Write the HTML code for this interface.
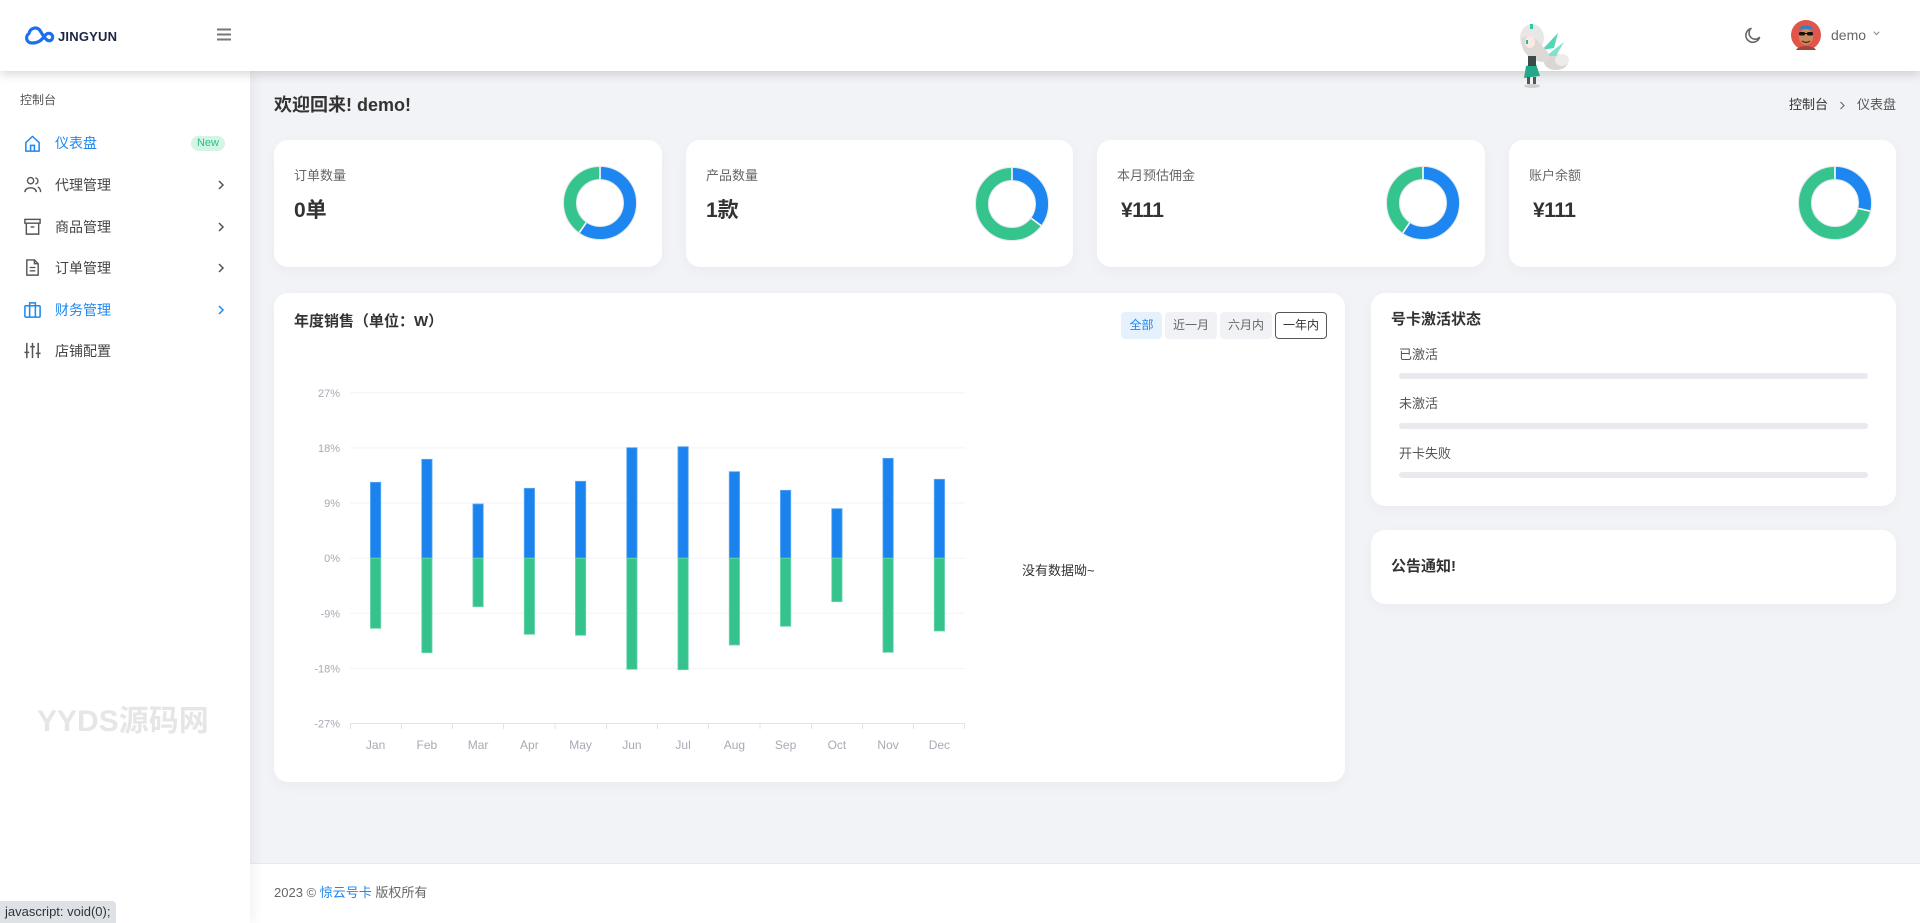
<!DOCTYPE html>
<html lang="zh-CN">
<head>
<meta charset="utf-8">
<style>
*{margin:0;padding:0;box-sizing:border-box;}
html,body{width:1920px;height:923px;overflow:hidden;background:#f2f3f7;font-family:"Liberation Sans","Noto Sans CJK SC",sans-serif;color:#333;}
.abs{position:absolute;}
#header{position:absolute;left:0;top:0;width:1920px;height:71px;background:#fff;box-shadow:0 3px 10px rgba(0,0,0,0.16);z-index:5;}
#sidebar{position:absolute;left:0;top:71px;width:250px;height:852px;background:#fff;box-shadow:3px 0 12px rgba(0,0,0,0.06);z-index:4;}
.card{position:absolute;background:#fff;border-radius:14px;box-shadow:0 4px 14px rgba(0,0,0,0.035);}
.t{position:absolute;white-space:nowrap;}
.mi{position:absolute;left:55px;height:20px;line-height:20px;font-size:14px;color:#444;white-space:nowrap;}
.ico{position:absolute;left:23px;width:19px;height:19px;}
.chev{position:absolute;left:217px;width:8px;height:12px;}
.btn{position:absolute;top:312px;height:27px;line-height:27px;font-size:12px;text-align:center;border-radius:4px;}
#footer{position:absolute;left:250px;top:863px;width:1670px;height:60px;background:#fff;border-top:1px solid #e9e9ee;z-index:3;}
</style>
</head>
<body>

<!-- HEADER -->
<div id="header">
  <svg class="abs" style="left:23px;top:24px" width="32" height="22" viewBox="0 0 32 22">
    <path d="M9 19 C3 19 2 12 6 9.5 C7 4 14 2 17 6.5 C19 9.5 21 14 24 16 C28 18.5 31 14 29 11 C27.5 8.5 24 9 22.5 11 L20 14 C17 18 13 19 9 19 Z" fill="none" stroke="#1d6ff2" stroke-width="3.2" stroke-linejoin="round" stroke-linecap="round"/>
  </svg>
  <div class="t" style="left:58px;top:28px;font-size:13px;line-height:18px;font-weight:900;color:#1b2541;letter-spacing:0.2px;">JINGYUN</div>
  <svg class="abs" style="left:217px;top:28px" width="14" height="13" viewBox="0 0 14 13">
    <rect x="0" y="0.5" width="14" height="2" fill="#777"/>
    <rect x="0" y="5.5" width="14" height="2" fill="#777"/>
    <rect x="0" y="10.5" width="14" height="2" fill="#777"/>
  </svg>
  <!-- mascot -->
  <svg class="abs" style="left:1512px;top:20px" width="64" height="70" viewBox="0 0 64 70">
    <ellipse cx="44" cy="42" rx="12" ry="8" fill="#d9d6d4"/>
    <ellipse cx="50" cy="40" rx="7" ry="6" fill="#eeeceb"/>
    <path d="M30 30 L46 13 L42 28 Z" fill="#52d6b6"/>
    <path d="M34 36 L52 22 L44 36 Z" fill="#7fe3cb"/>
    <ellipse cx="20" cy="18" rx="12" ry="14" fill="#e9e7e6"/>
    <path d="M10 18 C8 30 16 40 30 42 C38 43 40 36 34 30 C28 24 22 12 10 18 Z" fill="#dcd9d7"/>
    <ellipse cx="18" cy="22" rx="5" ry="6" fill="#fbe9e2"/>
    <rect x="14" y="20" width="2" height="4" fill="#2bb59b"/>
    <rect x="18" y="4" width="3" height="5" fill="#33c7a7"/>
    <path d="M14 46 L24 44 L28 56 L12 58 Z" fill="#23a989"/>
    <rect x="16" y="36" width="8" height="10" fill="#3e4a48"/>
    <rect x="15" y="57" width="3" height="7" fill="#555"/>
    <rect x="21" y="57" width="3" height="7" fill="#555"/>
    <ellipse cx="20" cy="66" rx="8" ry="2" fill="#cfcfcf"/>
  </svg>
  <!-- moon -->
  <svg class="abs" style="left:1744px;top:26px" width="18" height="18" viewBox="0 0 18 18">
    <path d="M15.5 11.5 A7 7 0 1 1 7 2.5 A5.5 5.5 0 0 0 15.5 11.5 Z" fill="none" stroke="#666" stroke-width="1.6" stroke-linejoin="round"/>
  </svg>
  <!-- avatar -->
  <svg class="abs" style="left:1791px;top:20px" width="30" height="30" viewBox="0 0 30 30">
    <circle cx="15" cy="15" r="15" fill="#e0564b"/>
    <path d="M8 9 C9 4 21 4 22 9 Z" fill="#3f7fb8"/>
    <ellipse cx="15" cy="17" rx="7" ry="8" fill="#c98a5e"/>
    <rect x="8" y="12" width="6" height="3.5" rx="1.5" fill="#111"/>
    <rect x="16" y="12" width="6" height="3.5" rx="1.5" fill="#111"/>
    <rect x="13" y="13" width="4" height="1" fill="#111"/>
    <path d="M11 21 Q15 24 19 21" fill="none" stroke="#5a2a1a" stroke-width="1.4"/>
    <path d="M5 30 C7 25 23 25 25 30 Z" fill="#a24437"/>
  </svg>
  <div class="t" style="left:1831px;top:26px;font-size:14px;line-height:18px;color:#666;">demo</div>
  <svg class="abs" style="left:1873px;top:31px" width="7" height="5" viewBox="0 0 7 5">
    <polyline points="0.8,0.8 3.5,3.6 6.2,0.8" fill="none" stroke="#888" stroke-width="1.1"/>
  </svg>
</div>

<!-- SIDEBAR -->
<div id="sidebar">
  <div class="t" style="left:20px;top:21px;font-size:12px;line-height:16px;color:#555;">控制台</div>
</div>
<div class="abs" style="left:0;top:0;width:250px;height:923px;z-index:6;pointer-events:none;">
  <!-- item 1 -->
  <svg class="ico" style="top:134px" viewBox="0 0 20 20"><path d="M3 9 L10 2.5 L17 9 V18 H3 Z" fill="none" stroke="#1e88f0" stroke-width="1.6" stroke-linejoin="round"/><path d="M8 18 V12 H12 V18" fill="none" stroke="#1e88f0" stroke-width="1.6"/></svg>
  <div class="mi" style="top:133px;color:#1e88f0;">仪表盘</div>
  <div class="t" style="left:191px;top:136px;width:34px;height:15px;border-radius:8px;background:#d3f4e6;color:#2cc184;font-size:11px;line-height:15px;text-align:center;">New</div>
  <!-- item 2 -->
  <svg class="ico" style="top:175px" viewBox="0 0 20 20"><circle cx="8" cy="6" r="3.3" fill="none" stroke="#555" stroke-width="1.5"/><path d="M2 18 C2 12 14 12 14 18" fill="none" stroke="#555" stroke-width="1.5"/><path d="M13 3 A3.3 3.3 0 0 1 13 9.5" fill="none" stroke="#555" stroke-width="1.5"/><path d="M15.5 12.5 C17.5 13.5 18.5 15.5 18.5 18" fill="none" stroke="#555" stroke-width="1.5"/></svg>
  <div class="mi" style="top:175px;">代理管理</div>
  <svg class="chev" style="top:179px" viewBox="0 0 8 12"><polyline points="2,2 6,6 2,10" fill="none" stroke="#555" stroke-width="1.5"/></svg>
  <!-- item 3 -->
  <svg class="ico" style="top:217px" viewBox="0 0 20 20"><rect x="2" y="2.5" width="16" height="4" fill="none" stroke="#555" stroke-width="1.5"/><path d="M3.5 6.5 V18 H16.5 V6.5" fill="none" stroke="#555" stroke-width="1.5"/><line x1="8" y1="10.5" x2="12" y2="10.5" stroke="#555" stroke-width="1.5"/></svg>
  <div class="mi" style="top:217px;">商品管理</div>
  <svg class="chev" style="top:221px" viewBox="0 0 8 12"><polyline points="2,2 6,6 2,10" fill="none" stroke="#555" stroke-width="1.5"/></svg>
  <!-- item 4 -->
  <svg class="ico" style="top:258px" viewBox="0 0 20 20"><path d="M4 2 H12 L16 6 V18 H4 Z" fill="none" stroke="#555" stroke-width="1.5" stroke-linejoin="round"/><path d="M12 2 V6 H16" fill="none" stroke="#555" stroke-width="1.5"/><line x1="7" y1="10" x2="13" y2="10" stroke="#555" stroke-width="1.4"/><line x1="7" y1="13.5" x2="13" y2="13.5" stroke="#555" stroke-width="1.4"/></svg>
  <div class="mi" style="top:258px;">订单管理</div>
  <svg class="chev" style="top:262px" viewBox="0 0 8 12"><polyline points="2,2 6,6 2,10" fill="none" stroke="#555" stroke-width="1.5"/></svg>
  <!-- item 5 -->
  <svg class="ico" style="top:300px" viewBox="0 0 20 20"><rect x="2" y="6" width="16" height="12" rx="1" fill="none" stroke="#1e88f0" stroke-width="1.6"/><path d="M7 6 V3 H13 V6" fill="none" stroke="#1e88f0" stroke-width="1.6"/><line x1="7" y1="6" x2="7" y2="18" stroke="#1e88f0" stroke-width="1.6"/><line x1="13" y1="6" x2="13" y2="18" stroke="#1e88f0" stroke-width="1.6"/></svg>
  <div class="mi" style="top:300px;color:#1e88f0;">财务管理</div>
  <svg class="chev" style="top:304px" viewBox="0 0 8 12"><polyline points="2,2 6,6 2,10" fill="none" stroke="#1e88f0" stroke-width="1.5"/></svg>
  <!-- item 6 -->
  <svg class="ico" style="top:341px" viewBox="0 0 20 20"><g stroke="#555" stroke-width="1.6"><line x1="4" y1="2" x2="4" y2="18"/><line x1="10" y1="2" x2="10" y2="18"/><line x1="16" y1="2" x2="16" y2="18"/><line x1="1.5" y1="12" x2="6.5" y2="12"/><line x1="7.5" y1="6" x2="12.5" y2="6"/><line x1="13.5" y1="13" x2="18.5" y2="13"/></g></svg>
  <div class="mi" style="top:341px;">店铺配置</div>
  <!-- watermark -->
  <div class="t" style="left:37px;top:705px;font-size:30px;line-height:34px;font-weight:bold;color:#e6e6e8;">YYDS源码网</div>
</div>

<!-- MAIN TITLE -->
<div class="t" style="left:274px;top:94px;font-size:18px;line-height:22px;font-weight:bold;color:#333;">欢迎回来! demo!</div>
<div class="t" style="left:1789px;top:96px;font-size:13px;line-height:18px;color:#333;">控制台</div>
<svg class="abs" style="left:1839px;top:101px" width="7" height="9" viewBox="0 0 7 9"><polyline points="1.5,1 5,4.5 1.5,8" fill="none" stroke="#666" stroke-width="1.1"/></svg>
<div class="t" style="left:1857px;top:96px;font-size:13px;line-height:18px;color:#555;">仪表盘</div>

<!-- STAT CARDS -->
<div class="card" style="left:274px;top:140px;width:388px;height:127px;"></div>
<div class="card" style="left:686px;top:140px;width:387px;height:127px;"></div>
<div class="card" style="left:1097px;top:140px;width:388px;height:127px;"></div>
<div class="card" style="left:1509px;top:140px;width:387px;height:127px;"></div>

<div class="t" style="left:294px;top:167px;font-size:13px;line-height:18px;color:#666;">订单数量</div>
<div class="t" style="left:294px;top:198px;font-size:21px;line-height:26px;font-weight:bold;color:#333;">0单</div>
<div class="t" style="left:706px;top:167px;font-size:13px;line-height:18px;color:#666;">产品数量</div>
<div class="t" style="left:706px;top:198px;font-size:21px;line-height:26px;font-weight:bold;color:#333;">1款</div>
<div class="t" style="left:1117px;top:167px;font-size:13px;line-height:18px;color:#666;">本月预估佣金</div>
<div class="t" style="left:1121px;top:198px;font-size:21px;line-height:26px;font-weight:bold;color:#333;letter-spacing:-0.5px;">¥111</div>
<div class="t" style="left:1529px;top:167px;font-size:13px;line-height:18px;color:#666;">账户余额</div>
<div class="t" style="left:1533px;top:198px;font-size:21px;line-height:26px;font-weight:bold;color:#333;letter-spacing:-0.5px;">¥111</div>

<!-- CHART CARD & RIGHT CARDS -->
<div class="card" style="left:274px;top:293px;width:1071px;height:489px;"></div>
<div class="card" style="left:1371px;top:293px;width:525px;height:213px;"></div>
<div class="card" style="left:1371px;top:530px;width:525px;height:74px;"></div>

<div class="t" style="left:294px;top:312px;font-size:15px;line-height:20px;font-weight:bold;color:#333;">年度销售（单位：W）</div>
<div class="btn" style="left:1121px;width:41px;background:#e6f1fe;color:#1e88f0;">全部</div>
<div class="btn" style="left:1165px;width:52px;background:#f1f2f5;color:#666;">近一月</div>
<div class="btn" style="left:1220px;width:52px;background:#f1f2f5;color:#666;">六月内</div>
<div class="btn" style="left:1275px;width:52px;background:#fff;color:#333;border:1px solid #555;line-height:25px;">一年内</div>
<div class="t" style="left:1022px;top:562px;font-size:13px;line-height:18px;color:#333;">没有数据呦~</div>

<div class="t" style="left:1391px;top:310px;font-size:15px;line-height:20px;font-weight:bold;color:#333;">号卡激活状态</div>
<div class="t" style="left:1399px;top:346px;font-size:13px;line-height:18px;color:#555;">已激活</div>
<div class="abs" style="left:1399px;top:373px;width:469px;height:6px;border-radius:3px;background:#e9e9ef;"></div>
<div class="t" style="left:1399px;top:395px;font-size:13px;line-height:18px;color:#555;">未激活</div>
<div class="abs" style="left:1399px;top:423px;width:469px;height:6px;border-radius:3px;background:#e9e9ef;"></div>
<div class="t" style="left:1399px;top:445px;font-size:13px;line-height:18px;color:#555;">开卡失败</div>
<div class="abs" style="left:1399px;top:472px;width:469px;height:6px;border-radius:3px;background:#e9e9ef;"></div>
<div class="t" style="left:1391px;top:557px;font-size:15px;line-height:20px;font-weight:bold;color:#333;">公告通知!</div>

<!-- SVG: donuts + chart -->
<svg class="abs" style="left:0;top:0;z-index:2" width="1920" height="923" viewBox="0 0 1920 923" font-family="Liberation Sans, sans-serif">
  <defs>
    <g id="dbase">
      <circle r="36.3" fill="none" stroke="#e7e7ef" stroke-width="1.6"/>
      <circle r="23.7" fill="none" stroke="#e7e7ef" stroke-width="1.6"/>
      <circle r="30" fill="none" stroke="#35c48e" stroke-width="12"/>
    </g>
  </defs>
  <!-- donut 1 f=0.597 -->
  <g transform="translate(600,203)">
    <use href="#dbase"/>
    <circle r="30" fill="none" stroke="#1e86f0" stroke-width="12" stroke-dasharray="112.5 200" transform="rotate(-90)"/>
    <line x1="0" y1="-24" x2="0" y2="-36" stroke="#fff" stroke-width="1.6"/>
    <line x1="0" y1="-24" x2="0" y2="-36" stroke="#fff" stroke-width="1.6" transform="rotate(215)"/>
  </g>
  <!-- donut 2 f=0.352 -->
  <g transform="translate(1012,204)">
    <use href="#dbase"/>
    <circle r="30" fill="none" stroke="#1e86f0" stroke-width="12" stroke-dasharray="66.3 200" transform="rotate(-90)"/>
    <line x1="0" y1="-24" x2="0" y2="-36" stroke="#fff" stroke-width="1.6"/>
    <line x1="0" y1="-24" x2="0" y2="-36" stroke="#fff" stroke-width="1.6" transform="rotate(126.6)"/>
  </g>
  <!-- donut 3 -->
  <g transform="translate(1423,203)">
    <use href="#dbase"/>
    <circle r="30" fill="none" stroke="#1e86f0" stroke-width="12" stroke-dasharray="112 200" transform="rotate(-90)"/>
    <line x1="0" y1="-24" x2="0" y2="-36" stroke="#fff" stroke-width="1.6"/>
    <line x1="0" y1="-24" x2="0" y2="-36" stroke="#fff" stroke-width="1.6" transform="rotate(214)"/>
  </g>
  <!-- donut 4 -->
  <g transform="translate(1835,203)">
    <use href="#dbase"/>
    <circle r="30" fill="none" stroke="#1e86f0" stroke-width="12" stroke-dasharray="53.9 200" transform="rotate(-90)"/>
    <line x1="0" y1="-24" x2="0" y2="-36" stroke="#fff" stroke-width="1.6"/>
    <line x1="0" y1="-24" x2="0" y2="-36" stroke="#fff" stroke-width="1.6" transform="rotate(103)"/>
  </g>

  <!-- grid -->
  <g stroke="#f3f3f5" stroke-width="1">
    <line x1="350" y1="392.8" x2="965" y2="392.8"/>
    <line x1="350" y1="447.9" x2="965" y2="447.9"/>
    <line x1="350" y1="503.0" x2="965" y2="503.0"/>
    <line x1="350" y1="558.2" x2="965" y2="558.2"/>
    <line x1="350" y1="613.3" x2="965" y2="613.3"/>
    <line x1="350" y1="668.4" x2="965" y2="668.4"/>
  </g>
  <g stroke="#e2e3e8" stroke-width="1">
    <line x1="350" y1="723.5" x2="965" y2="723.5"/>
    <line x1="350.5" y1="723.5" x2="350.5" y2="729"/>
    <line x1="401.5" y1="723.5" x2="401.5" y2="729"/>
    <line x1="452.5" y1="723.5" x2="452.5" y2="729"/>
    <line x1="503.5" y1="723.5" x2="503.5" y2="729"/>
    <line x1="555" y1="723.5" x2="555" y2="729"/>
    <line x1="606.5" y1="723.5" x2="606.5" y2="729"/>
    <line x1="657.5" y1="723.5" x2="657.5" y2="729"/>
    <line x1="708.5" y1="723.5" x2="708.5" y2="729"/>
    <line x1="760" y1="723.5" x2="760" y2="729"/>
    <line x1="811.5" y1="723.5" x2="811.5" y2="729"/>
    <line x1="862.5" y1="723.5" x2="862.5" y2="729"/>
    <line x1="913.5" y1="723.5" x2="913.5" y2="729"/>
    <line x1="964.5" y1="723.5" x2="964.5" y2="729"/>
  </g>
  <g font-size="11" fill="#a7aab5" text-anchor="end">
    <text x="340" y="396.8">27%</text>
    <text x="340" y="451.9">18%</text>
    <text x="340" y="507">9%</text>
    <text x="340" y="562.2">0%</text>
    <text x="340" y="617.3">-9%</text>
    <text x="340" y="672.4">-18%</text>
    <text x="340" y="727.5">-27%</text>
  </g>
  <g font-size="12" fill="#a7aab5" text-anchor="middle">
    <text x="375.6" y="749">Jan</text>
    <text x="426.9" y="749">Feb</text>
    <text x="478.1" y="749">Mar</text>
    <text x="529.4" y="749">Apr</text>
    <text x="580.6" y="749">May</text>
    <text x="631.9" y="749">Jun</text>
    <text x="683.1" y="749">Jul</text>
    <text x="734.4" y="749">Aug</text>
    <text x="785.6" y="749">Sep</text>
    <text x="836.9" y="749">Oct</text>
    <text x="888.1" y="749">Nov</text>
    <text x="939.4" y="749">Dec</text>
  </g>
  <!-- blue bars -->
  <g fill="#1b83ee" stroke="#5aa8f3" stroke-width="0.8">
    <rect x="370.45" y="482.3" width="10.3" height="75.9"/>
    <rect x="421.75" y="459.3" width="10.3" height="98.9"/>
    <rect x="472.95" y="504.0" width="10.3" height="54.2"/>
    <rect x="524.25" y="488.3" width="10.3" height="69.9"/>
    <rect x="575.45" y="481.3" width="10.3" height="76.9"/>
    <rect x="626.75" y="447.7" width="10.3" height="110.5"/>
    <rect x="677.95" y="446.7" width="10.3" height="111.5"/>
    <rect x="729.25" y="471.7" width="10.3" height="86.5"/>
    <rect x="780.45" y="490.3" width="10.3" height="67.9"/>
    <rect x="831.75" y="508.7" width="10.3" height="49.5"/>
    <rect x="882.95" y="458.3" width="10.3" height="99.9"/>
    <rect x="934.25" y="479.3" width="10.3" height="78.9"/>
  </g>
  <!-- green bars -->
  <g fill="#34c38c" stroke="#6fd6ad" stroke-width="0.8">
    <rect x="370.45" y="558.2" width="10.3" height="70.1"/>
    <rect x="421.75" y="558.2" width="10.3" height="94.5"/>
    <rect x="472.95" y="558.2" width="10.3" height="48.5"/>
    <rect x="524.25" y="558.2" width="10.3" height="76.1"/>
    <rect x="575.45" y="558.2" width="10.3" height="77.1"/>
    <rect x="626.75" y="558.2" width="10.3" height="111.1"/>
    <rect x="677.95" y="558.2" width="10.3" height="111.5"/>
    <rect x="729.25" y="558.2" width="10.3" height="86.8"/>
    <rect x="780.45" y="558.2" width="10.3" height="68.1"/>
    <rect x="831.75" y="558.2" width="10.3" height="43.5"/>
    <rect x="882.95" y="558.2" width="10.3" height="94.1"/>
    <rect x="934.25" y="558.2" width="10.3" height="72.8"/>
  </g>
</svg>

<!-- FOOTER -->
<div id="footer">
  <div class="t" style="left:24px;top:20px;font-size:13px;line-height:18px;color:#666;">2023 © <span style="color:#1e88f0;">惊云号卡</span> 版权所有</div>
</div>

<!-- status bubble -->
<div class="abs" style="left:0;top:901px;width:116px;height:22px;background:#dee1e6;border-top-right-radius:4px;z-index:10;font-size:13px;line-height:22px;color:#333;padding-left:5px;white-space:nowrap;">javascript: void(0);</div>

</body>
</html>
